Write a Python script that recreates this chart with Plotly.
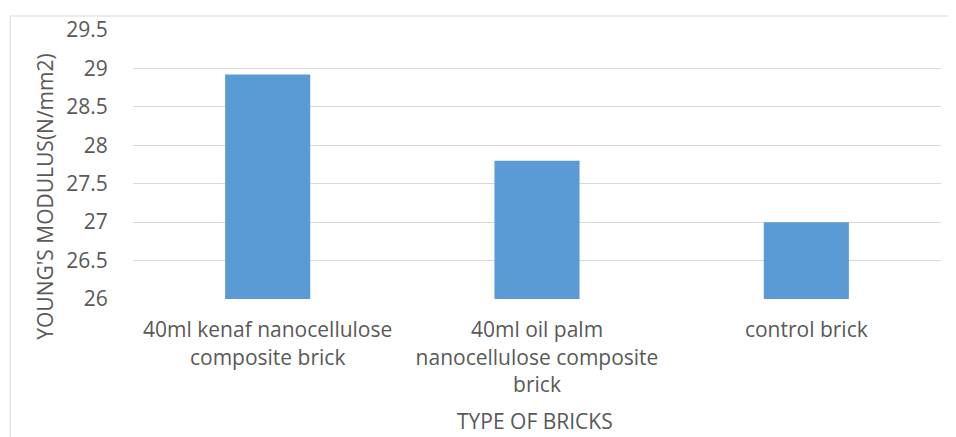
import plotly.graph_objects as go

# chart data
brick_types = [
    "40ml kenaf nanocellulose<br>composite brick",
    "40ml oil palm<br>nanocellulose composite<br>brick",
    "control brick",
]
youngs_modulus = [28.92, 27.80, 27.0]

y_ticks = [26, 26.5, 27, 27.5, 28, 28.5, 29, 29.5]

FONT = "Open Sans, Liberation Sans, sans-serif"
TEXT_COLOR = "#595959"
GRID = "#d9d9d9"
FS = 21

fig = go.Figure()

fig.add_trace(go.Bar(
    x=brick_types,
    y=youngs_modulus,
    marker=dict(color="#5b9bd5", line=dict(width=0)),
    width=0.316,
))

fig.update_yaxes(
    range=[26, 29.5],
    tickvals=y_ticks,
    ticktext=[f"{v:g}" for v in y_ticks],
    showgrid=True,
    gridcolor=GRID,
    gridwidth=1,
    zeroline=False,
    showline=False,
    ticks="outside",
    ticklen=20,
    tickcolor="rgba(0,0,0,0)",
    tickfont=dict(family=FONT, size=FS, color=TEXT_COLOR),
)

fig.update_xaxes(
    showgrid=False,
    showline=False,
    ticks="outside",
    ticklen=12,
    tickcolor="rgba(0,0,0,0)",
    tickfont=dict(family=FONT, size=FS, color=TEXT_COLOR),
)

# chart border (Excel style frame)
fig.add_shape(
    type="rect", xref="paper", yref="paper",
    x0=-0.152, x1=1.03, y0=-0.6, y1=1.052,
    line=dict(color=GRID, width=1), fillcolor="rgba(0,0,0,0)", layer="below",
)

fig.add_annotation(
    text="YOUNG'S MODULUS(N/mm2)", textangle=-90,
    xref="paper", yref="paper", x=-0.109, y=0.38,
    xanchor="center", yanchor="middle",
    showarrow=False, font=dict(family=FONT, size=FS, color=TEXT_COLOR),
)
fig.add_annotation(
    text="TYPE OF BRICKS",
    xref="paper", yref="paper", x=0.497, y=-0.455,
    xanchor="center", yanchor="middle",
    showarrow=False, font=dict(family=FONT, size=FS, color=TEXT_COLOR),
)

fig.update_layout(
    width=940,
    height=429,
    margin=dict(l=125, r=7, t=20, b=138),
    plot_bgcolor="white",
    paper_bgcolor="white",
    showlegend=False,
)

fig.write_html("out.html")
